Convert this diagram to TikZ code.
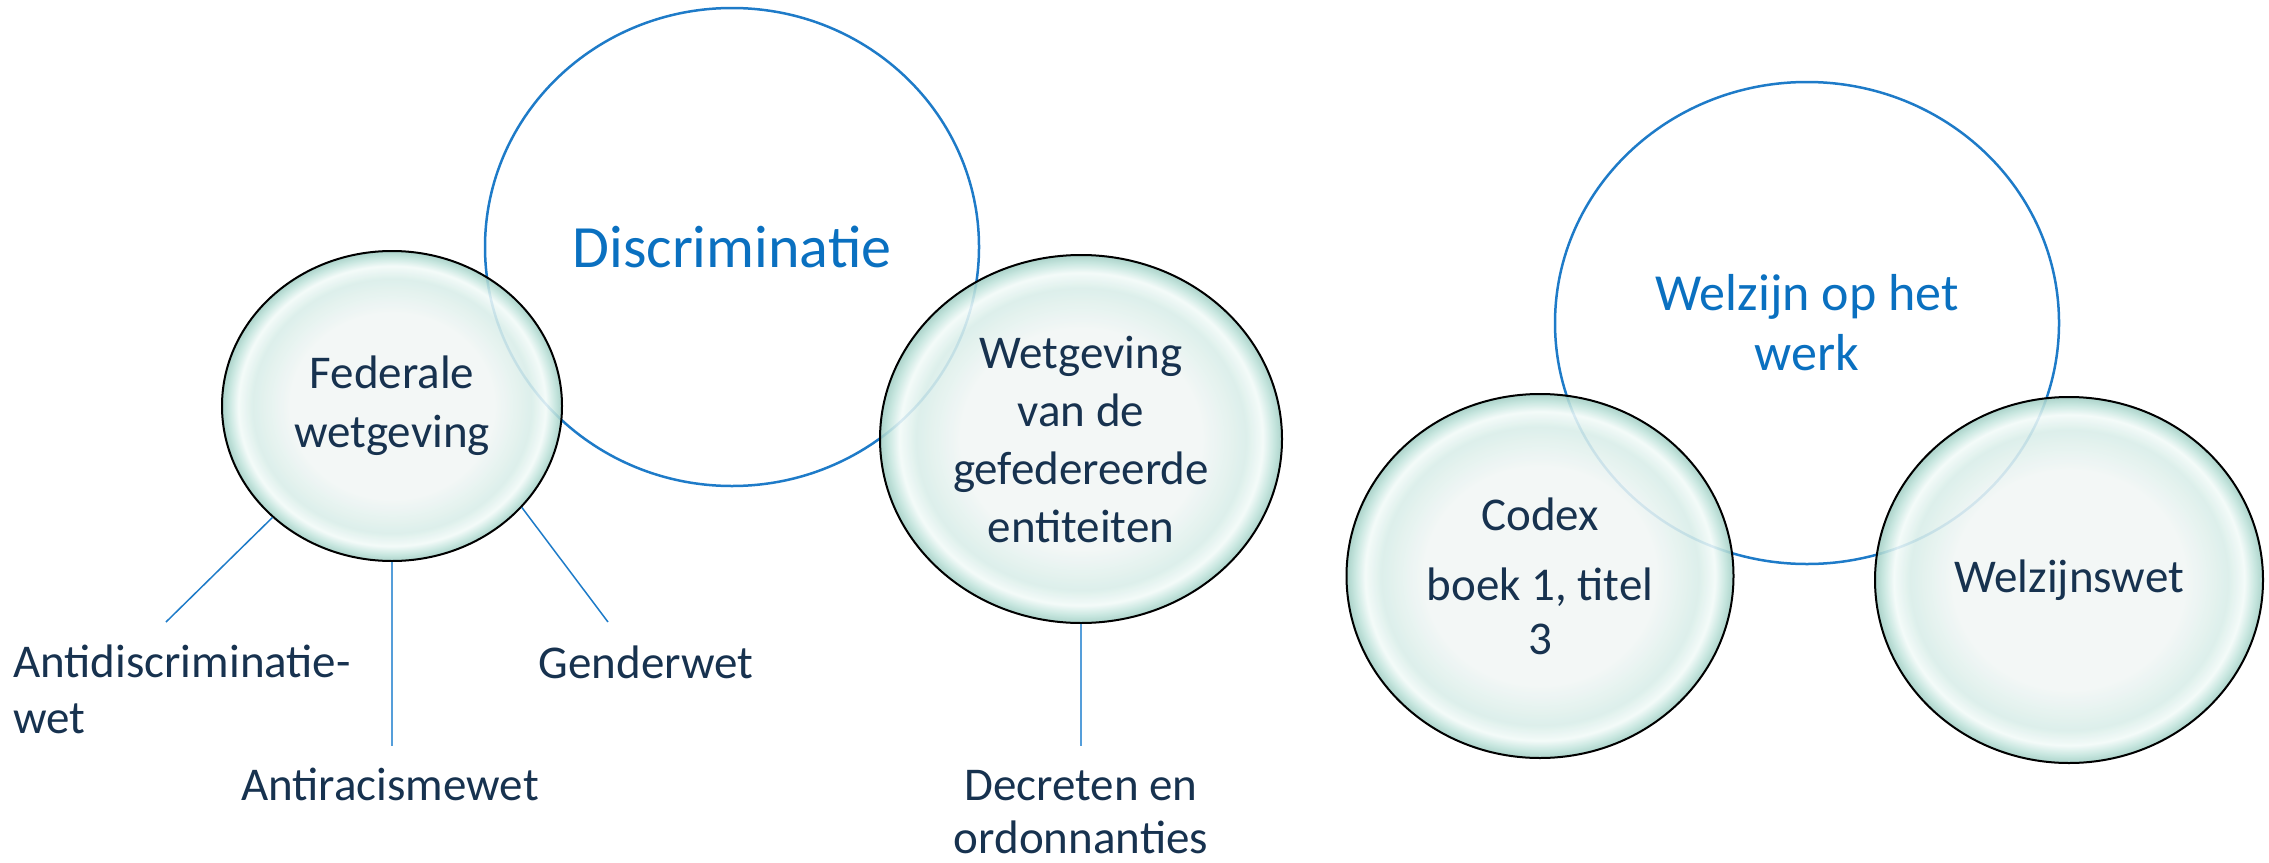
\documentclass[tikz,border=0pt]{standalone}
\usepackage{fontspec}
\setmainfont{Carlito}
\usetikzlibrary{shapes.geometric}
\definecolor{navy}{RGB}{23,50,79}
\definecolor{bluet}{RGB}{10,112,192}
\definecolor{bline}{RGB}{30,123,200}
\definecolor{bline2}{RGB}{85,158,218}
\definecolor{bubin}{RGB}{241,246,245}
\definecolor{bubmid}{RGB}{216,237,232}
\definecolor{bubhi}{RGB}{242,250,248}
\definecolor{bubmidb}{RGB}{192,227,219}
\definecolor{bubout}{RGB}{160,205,195}
\pgfdeclareradialshading{bubble}{\pgfpoint{0bp}{0bp}}{color(0bp)=(bubin); color(15bp)=(bubin); color(20.5bp)=(bubmid); color(22.6bp)=(bubhi); color(24bp)=(bubmidb); color(25bp)=(bubout); color(50bp)=(bubout)}
\begin{document}
\begin{tikzpicture}[x=1pt,y=-1pt,
  lab/.style={font=\fontsize{47}{56}\selectfont, text=navy, inner sep=0pt, align=center},
  bub/.style={ellipse, draw=black, line width=2pt, shading=bubble, fill opacity=0.88, text opacity=1, inner sep=0pt, text=navy, align=center, font=\fontsize{47}{58}\selectfont},
  ring/.style={ellipse, draw=bline, line width=2.5pt, inner sep=0pt, text=bluet, align=center},
  conn/.style={draw=bline, line width=1.5pt},
  conntwo/.style={draw=bline2, line width=2.5pt}]
\useasboundingbox (0,0) rectangle (2269,862);
% large circles
\node[ring, minimum width=494pt, minimum height=478pt, font=\fontsize{60}{70}\selectfont] (disc) at (732,247) {Discriminatie};
\node[ring, minimum width=504pt, minimum height=482pt, font=\fontsize{52}{60}\selectfont] (welz) at (1807,323) {Welzijn op het\\werk};
% bubbles
\node[bub, minimum width=340pt, minimum height=310pt, font=\fontsize{47}{59}\selectfont] (fed) at (392,406) {Federale\\wetgeving};
\node[bub, minimum width=402pt, minimum height=368pt] (geff) at (1081,439) {Wetgeving\\van de\\gefedereerde\\entiteiten};
\node[bub, minimum width=387pt, minimum height=364pt, font=\fontsize{47}{54}\selectfont] (codex) at (1540,576) {Codex\\[16pt]boek 1, titel\\3};
\node[bub, minimum width=388pt, minimum height=366pt] (wzw) at (2069,580) {Welzijnswet};
% labels
\node[lab, align=left, anchor=west] (adisc) at (13,689) {Antidiscriminatie-\\wet};
\node[lab, anchor=base] (arac) at (390,800) {Antiracismewet};
\node[lab, anchor=base] (gend) at (646,678) {Genderwet};
\node[lab, font=\fontsize{47}{53}\selectfont] (decr) at (1081,812) {Decreten en\\ordonnanties};
% connector ends
\coordinate (c1) at (166,622);
\coordinate (c2) at (392,746);
\coordinate (c3) at (608,622);
\coordinate (c4) at (1081,746);
\draw[conn] (fed.223) -- (c1);
\draw[conntwo] (fed.south) -- (c2);
\draw[conn] (fed.322) -- (c3);
\draw[conntwo] (geff.south) -- (c4);
\end{tikzpicture}
\end{document}
